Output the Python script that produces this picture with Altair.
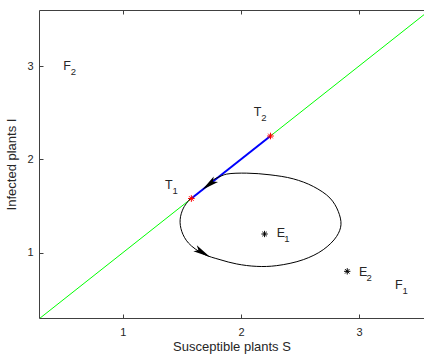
import altair as alt
import pandas as pd

# ---- data ----
diag_S = [0.29, 3.6]                    # green line I = S
blue_S = [1.58, 2.25]                   # blue segment T1 -> T2
T_S = [1.58, 2.25]                      # red stars T1, T2
T_I = [1.58, 2.25]
E_S = [2.2, 2.9]                        # black stars E1, E2
E_I = [1.2, 0.8]

curve_S = [1.575, 1.513, 1.485, 1.499, 1.555, 1.682, 1.823, 1.964, 2.134, 2.303,
           2.528, 2.697, 2.810, 2.847, 2.824, 2.754, 2.613, 2.443, 2.246, 2.049,
           1.880, 1.823, 1.767, 1.724]
curve_I = [1.585, 1.478, 1.353, 1.228, 1.104, 0.986, 0.925, 0.879, 0.853, 0.861,
           0.925, 1.032, 1.174, 1.299, 1.442, 1.585, 1.709, 1.791, 1.834, 1.852,
           1.842, 1.816, 1.781, 1.727]

arrow_S = [1.73, 1.675]
arrow_I = [1.73, 1.0]
arrow_dir = [142, 30]

lab_letter = ["F", "T", "T", "E", "E", "F"]
lab_sub = ["2", "2", "1", "1", "2", "1"]
lab_S = [0.496, 2.108, 1.357, 2.303, 2.999, 3.304]
lab_I = [3.0, 2.51, 1.722, 1.207, 0.796, 0.653]

x_ticks = [1, 2, 3]
y_ticks = [1, 2, 3]
x_title = "Susceptible plants S"
y_title = "Infected plants I"

# ---- tables ----
diag = pd.DataFrame({"S": diag_S, "I": diag_S})
blue = pd.DataFrame({"S": blue_S, "I": blue_S})
tpts = pd.DataFrame({"S": T_S, "I": T_I})
epts = pd.DataFrame({"S": E_S, "I": E_I})
curve = pd.DataFrame({"S": curve_S, "I": curve_I, "k": list(range(len(curve_S)))})
arrows = pd.DataFrame({"S": arrow_S, "I": arrow_I, "a": arrow_dir})
labels = pd.DataFrame({"S": lab_S, "I": lab_I, "L": lab_letter, "n": lab_sub})

xs = alt.Scale(domain=[0.29, 3.55], nice=False, zero=False)
ys = alt.Scale(domain=[0.3, 3.6], nice=False, zero=False)
FONT = "Liberation Sans"
AX = "#404040"

star = "M-1,0L1,0M0,-1L0,1M-0.7,-0.7L0.7,0.7M-0.7,0.7L0.7,-0.7"
arrow_path = "M1,0L-1,-0.4L-0.55,0L-1,0.4Z"

def X(axis):
    return alt.X("S:Q", scale=xs, axis=axis)

def Y(axis):
    return alt.Y("I:Q", scale=ys, axis=axis)

main_x = alt.Axis(orient="bottom", values=x_ticks, title=x_title, ticks=False, tickSize=0,
                  labelPadding=8, titlePadding=3, domain=True, grid=False,
                  labelFontSize=11, titleFontSize=13, titleFontWeight="normal")
main_y = alt.Axis(orient="left", values=y_ticks, title=y_title, ticks=False, tickSize=0,
                  labelPadding=6, titlePadding=8, domain=True, grid=False,
                  labelFontSize=11, titleFontSize=13, titleFontWeight="normal")
tick_x = alt.Axis(orient="bottom", values=x_ticks, title=None, labels=False, domain=False,
                  ticks=True, tickSize=4, offset=-4, grid=False)
tick_y = alt.Axis(orient="left", values=y_ticks, title=None, labels=False, domain=False,
                  ticks=True, tickSize=4, offset=-4, grid=False)
top_x = alt.Axis(orient="top", values=x_ticks, title=None, labels=False, domain=True,
                 ticks=False, tickSize=0, grid=False)
toptick_x = alt.Axis(orient="top", values=x_ticks, title=None, labels=False, domain=False,
                     ticks=True, tickSize=4, offset=-4, grid=False)

green = alt.Chart(diag).mark_line(color="#00ff00", strokeWidth=1, clip=True).encode(
    x=X(main_x), y=Y(main_y))
bl = alt.Chart(blue).mark_line(color="#0000ff", strokeWidth=2).encode(
    x=X(tick_x), y=Y(tick_y))
cv = alt.Chart(curve).mark_line(color="black", strokeWidth=1, interpolate="catmull-rom").encode(
    x=X(top_x), y=Y(None), order="k:Q")
ar = alt.Chart(arrows).mark_point(shape=arrow_path, filled=True, color="black", size=300,
                                   opacity=1).encode(
    x=X(toptick_x), y=Y(None), angle=alt.Angle("a:Q", scale=None))
es = alt.Chart(epts).mark_point(shape=star, filled=False, color="black", size=40,
                                strokeWidth=1, opacity=1).encode(x=X(None), y=Y(None))
ts = alt.Chart(tpts).mark_point(shape=star, filled=False, color="#ff0000", size=44,
                                strokeWidth=1, opacity=1).encode(x=X(None), y=Y(None))
lt = alt.Chart(labels).mark_text(align="left", baseline="middle", font=FONT, fontSize=12.5,
                                 color="#262626").encode(x=X(None), y=Y(None), text="L:N")
ls = alt.Chart(labels).mark_text(align="left", baseline="middle", font=FONT, fontSize=9.5,
                                 dx=7.5, dy=6, color="#262626").encode(
    x=X(None), y=Y(None), text="n:N")

chart = alt.layer(green, bl, cv, ar, es, ts, lt, ls).resolve_axis(
    x="independent", y="independent"
).properties(
    width=385, height=308,
    padding={"left": 39, "top": 10, "right": 0, "bottom": 38},
    autosize=alt.AutoSizeParams(type="none"),
    background="white",
).configure_view(stroke=None).configure_axis(
    domainColor=AX, tickColor=AX, labelColor="#262626", titleColor="#262626",
    labelFont=FONT, titleFont=FONT, domainWidth=1, tickWidth=1,
)

chart.save("out.html", embed_options={"renderer": "svg", "actions": False})
